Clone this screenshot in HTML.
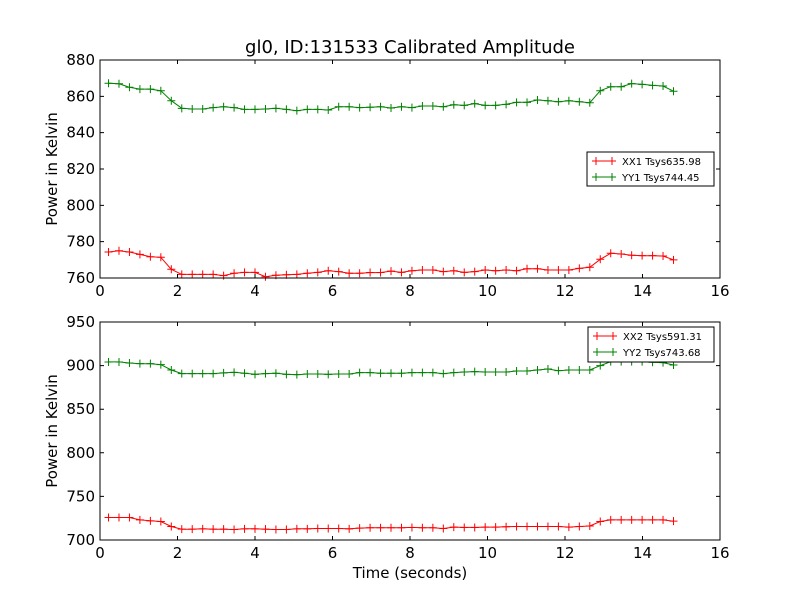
<!DOCTYPE html>
<html><head><meta charset="utf-8"><style>
html,body{margin:0;padding:0;background:#fff;}
svg{display:block;font-family:"DejaVu Sans","Liberation Sans",sans-serif;}
</style></head><body>
<svg id="chart" width="800" height="600" viewBox="0 0 800 600" xmlns="http://www.w3.org/2000/svg">
<rect x="0" y="0" width="800" height="600" fill="#fff"/>
<text x="410" y="53" text-anchor="middle" font-size="18">gl0, ID:131533 Calibrated Amplitude</text>
<text x="410" y="578" text-anchor="middle" font-size="15">Time (seconds)</text>
</svg>
<script>
const times = [];
for (let i = 0; i < 55; i++) times.push(+(0.22 + i * 0.27).toFixed(2));
const xTicks = [0, 2, 4, 6, 8, 10, 12, 14, 16];
const yTicksTop = [760, 780, 800, 820, 840, 860, 880];
const yTicksBottom = [700, 750, 800, 850, 900, 950];
const xx1 = [774.3,775,774.3,773,771.7,771.4,764.8,762,762,762,762,761.3,762.6,763.1,763.1,760.7,761.5,761.8,762,762.6,763.1,764,763.5,762.6,762.6,763,763,763.8,763.1,764,764.4,764.4,763.5,764,763.1,763.5,764.4,764,764.4,764,765.1,765.1,764.4,764.4,764.4,765.3,765.9,770.3,773.6,773.2,772.5,772.3,772.3,772.1,770];
const yy1 = [867.2,866.9,865,864,864,863.1,857.6,853.4,853,853,853.8,854.3,853.8,852.8,852.8,853,853.4,852.8,852.1,852.8,852.8,852.5,854.3,854.3,853.8,854,854.3,853.6,854.3,853.8,854.7,854.7,854.3,855.4,855,856,855,855,855.6,856.7,856.7,858,857.6,857,857.6,857,856.5,863.1,865.3,865.3,867,866.6,866,865.7,862.8];
const xx2 = [725.8,725.8,725.8,723.1,722,721.2,715.5,712.4,712.4,712.8,712.4,712.4,712,712.8,712.8,712.4,712,712,712.8,712.8,713.2,713.2,713.2,712.8,713.6,714,714,714,714,714.4,714,714,713.2,714.8,714.4,714.4,714.8,714.8,715.2,715.5,715.5,715.5,715.5,715.5,714.8,715.5,716,721.2,723.1,723.1,723.1,723.1,723.1,723.1,721.6];
const yy2 = [904.2,904.2,903,902.2,902.2,901.1,895,890.8,890.8,890.8,890.8,891.6,892.3,891.2,890,890.8,891.2,890,889.6,890.4,890.4,890,890.4,890.4,892,892,891.2,891.2,891.2,892,892,892,890.8,892,892.7,893.1,892.7,892.7,892.7,893.8,893.8,895,896.1,894.2,895,895,895,900,904.5,904.5,904.5,904.5,903.8,903.4,900.7];

const NS = "http://www.w3.org/2000/svg";
const svg = document.getElementById('chart');
function mk(tag, attrs, parent) {
  const e = document.createElementNS(NS, tag);
  for (const k in attrs) e.setAttribute(k, attrs[k]);
  (parent || svg).appendChild(e);
  return e;
}
const X0 = 100, X1 = 720;
const xScale = v => X0 + (v - 0) / 16 * (X1 - X0);

function panel(top, bottom, ymin, ymax, yTicks, series, legendBox, prefix) {
  const g = mk('g', {});
  
  
  const yScale = v => bottom - (v - ymin) / (ymax - ymin) * (bottom - top);
  series.forEach(s => {
    const sg = mk('g', {}, g);
    
    
    const pts = times.map((t, i) => xScale(t).toFixed(1) + ',' + yScale(s.data[i]).toFixed(1)).join(' ');
    const pl = mk('polyline', {points: pts, fill: 'none', stroke: s.color, 'stroke-width': 1}, sg);
    
    
    times.forEach((t, i) => {
      const x = xScale(t), y = yScale(s.data[i]);
      const m = mk('path', {d: `M${x-4},${y}H${x+4}M${x},${y-4}V${y+4}`, stroke: s.color, 'stroke-width': 1, fill: 'none'}, sg);
      
      
    });
  });
  const fr = mk('rect', {x: X0, y: top, width: X1 - X0, height: bottom - top, fill: 'none', stroke: '#000', 'stroke-width': 1}, g);
  
  
  xTicks.forEach(v => {
    const x = xScale(v);
    const tk = mk('path', {d: `M${x},${bottom}v-4M${x},${top}v4`, stroke: '#000'}, g);
    
    
    const tl = mk('text', {x: x, y: bottom + 18, 'text-anchor': 'middle', 'font-size': 15}, g);
    tl.textContent = v;
    
    
  });
  yTicks.forEach(v => {
    const y = yScale(v);
    const tk = mk('path', {d: `M${X0},${y}h4M${X1},${y}h-4`, stroke: '#000'}, g);
    
    
    const tl = mk('text', {x: X0 - 5, y: y + 5, 'text-anchor': 'end', 'font-size': 15}, g);
    tl.textContent = v;
    
    
  });
  const yt = mk('text', {x: 0, y: 0, 'text-anchor': 'middle', 'font-size': 15, transform: `translate(57,${(top+bottom)/2}) rotate(-90)`}, g);
  yt.textContent = 'Power in Kelvin';
  
  
  const lg = mk('g', {}, g);
  
  
  const lb = mk('rect', {x: legendBox[0], y: legendBox[1], width: legendBox[2], height: legendBox[3], fill: '#fff', stroke: '#000', 'stroke-width': 1}, lg);
  
  
  series.forEach((s, i) => {
    const y = legendBox[1] + 9 + i * 16;
    const lx = legendBox[0] + 5;
    const ln = mk('path', {d: `M${lx},${y}h24M${lx+4},${y-4}v8M${lx+20},${y-4}v8`, stroke: s.color, fill: 'none'}, lg);
    
    
    const lt = mk('text', {x: lx + 30, y: y + 4, 'font-size': 10}, lg);
    lt.textContent = s.label;
    
    
  });
}
panel(60, 278, 760, 880, yTicksTop,
  [{name: 'xx1', label: 'XX1 Tsys635.98', color: '#ff0000', data: xx1},
   {name: 'yy1', label: 'YY1 Tsys744.45', color: '#008000', data: yy1}],
  [587, 152, 127, 34], 'top');
panel(322, 540, 700, 950, yTicksBottom,
  [{name: 'xx2', label: 'XX2 Tsys591.31', color: '#ff0000', data: xx2},
   {name: 'yy2', label: 'YY2 Tsys743.68', color: '#008000', data: yy2}],
  [588, 327, 126, 35], 'bottom');
</script>
</body></html>
